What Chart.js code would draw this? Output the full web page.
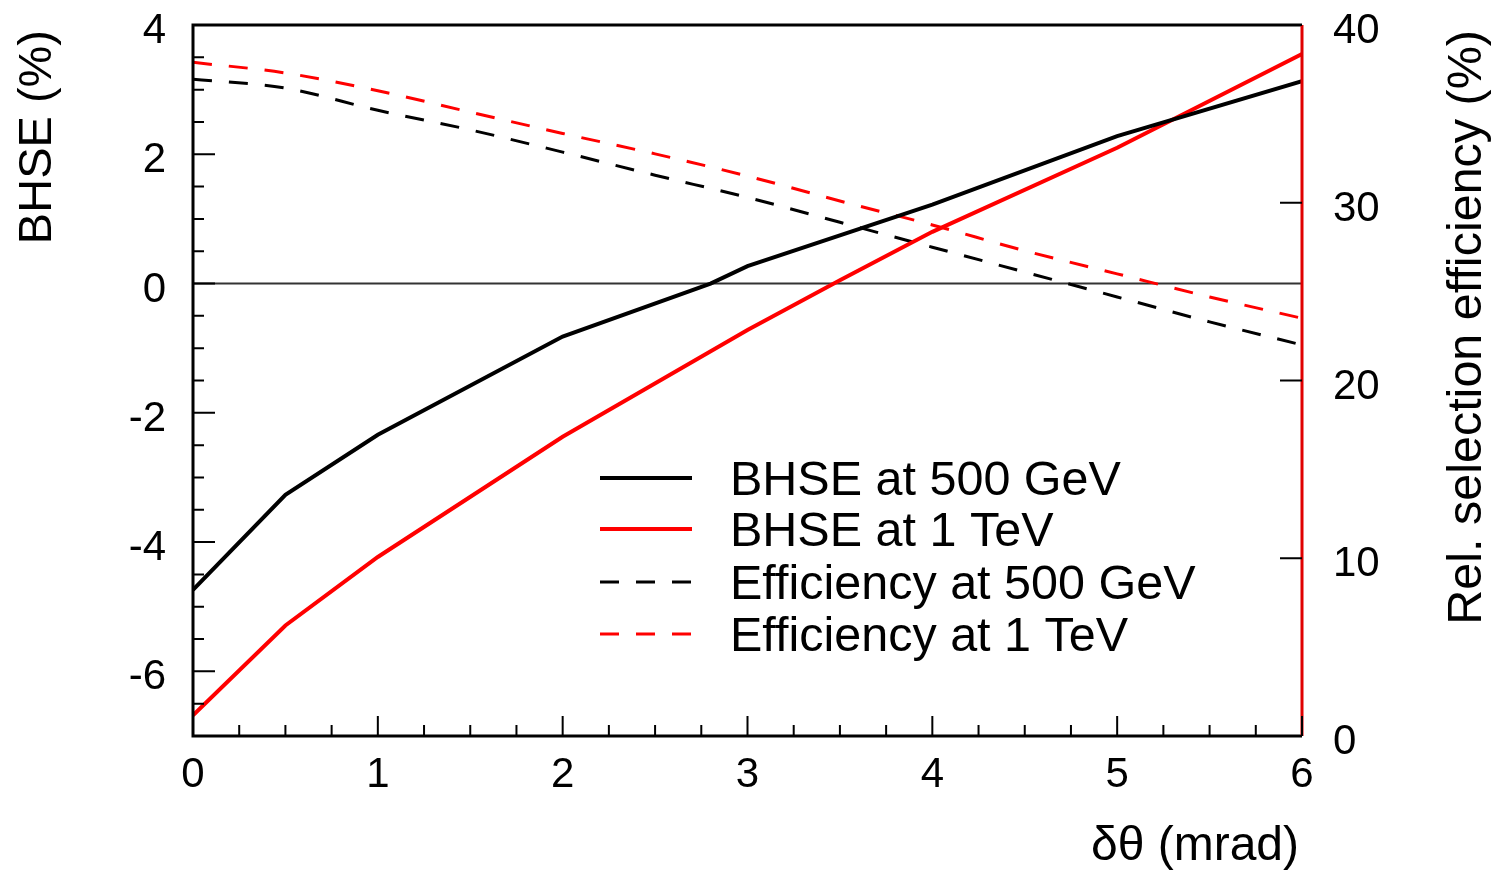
<!DOCTYPE html>
<html>
<head>
<meta charset="utf-8">
<script src="https://cdn.jsdelivr.net/npm/chart.js@4"></script>
<style>
  html, body { margin: 0; padding: 0; background: #fff; }
  #wrap { width: 1492px; height: 872px; position: relative; }
</style>
</head>
<body>
<div id="wrap"><canvas id="bhseChart"></canvas></div>
<script>
// Beam-halo systematic error (left axis) and relative selection efficiency (right axis)
let thetaBhse500 = [0, 0.5, 1, 2, 2.8, 3, 4, 5, 6];
let bhse500 = [-4.74, -3.27, -2.34, -0.82, 0.0, 0.27, 1.22, 2.28, 3.13];

let thetaBhse1TeV = [0, 0.5, 1, 2, 3, 3.5, 4, 5, 6];
let bhse1TeV = [-6.68, -5.29, -4.23, -2.37, -0.72, 0.05, 0.8, 2.1, 3.55];

let thetaEff = [0, 0.5, 1, 1.5, 2, 2.5, 3, 3.5, 4, 4.5, 5, 5.5, 6];
let eff500 = [36.95, 36.45, 35.2, 34.1, 32.85, 31.55, 30.3, 28.9, 27.5, 26.1, 24.7, 23.3, 22.0];
let eff1TeV = [37.9, 37.3, 36.3, 35.1, 33.9, 32.75, 31.5, 30.1, 28.75, 27.3, 26.0, 24.7, 23.5];

let xTicks = [0, 1, 2, 3, 4, 5, 6];
let yTicks = [-6, -4, -2, 0, 2, 4];
let y2Ticks = [0, 10, 20, 30, 40];

let FONT = '"Liberation Sans", Arial, Helvetica, sans-serif';

function toPoints(xs, ys){
  return xs.map((x, i) => ({ x: x, y: ys[i] }));
}

// Draws the frame, inward ticks, tick labels, titles and the legend box
let axisPainter = {
  id: 'axisPainter',
  beforeDatasetsDraw(chart){
    let ctx = chart.ctx, a = chart.chartArea, y = chart.scales.y;
    let y0 = y.getPixelForValue(0);
    ctx.save();
    ctx.strokeStyle = '#333';
    ctx.lineWidth = 2;
    ctx.beginPath();
    ctx.moveTo(a.left, y0);
    ctx.lineTo(a.right, y0);
    ctx.stroke();
    ctx.restore();
  },
  afterDatasetsDraw(chart){
    let ctx = chart.ctx, a = chart.chartArea;
    let x = chart.scales.x, y = chart.scales.y, y2 = chart.scales.y2;
    ctx.save();

    // frame
    ctx.strokeStyle = '#000';
    ctx.lineWidth = 3;
    ctx.beginPath();
    ctx.moveTo(a.right, a.top);
    ctx.lineTo(a.left, a.top);
    ctx.lineTo(a.left, a.bottom);
    ctx.lineTo(a.right, a.bottom);
    ctx.stroke();
    ctx.strokeStyle = '#e00000';
    ctx.beginPath();
    ctx.moveTo(a.right, a.top);
    ctx.lineTo(a.right, a.bottom);
    ctx.stroke();

    // ticks
    ctx.strokeStyle = '#000';
    ctx.lineWidth = 2;
    ctx.beginPath();
    for(let v = 0; v <= 6.001; v += 0.25){
      let px = x.getPixelForValue(v);
      let len = Math.abs(v - Math.round(v)) < 1e-6 ? 20 : 11;
      ctx.moveTo(px, a.bottom);
      ctx.lineTo(px, a.bottom - len);
    }
    for(let v = -7; v <= 4.001; v += 0.5){
      let py = y.getPixelForValue(v);
      let len = yTicks.includes(v) ? 22 : 11;
      ctx.moveTo(a.left, py);
      ctx.lineTo(a.left + len, py);
    }
    y2Ticks.forEach((v) => {
      let py = y2.getPixelForValue(v);
      ctx.moveTo(a.right, py);
      ctx.lineTo(a.right - 22, py);
    });
    ctx.stroke();

    // tick labels
    ctx.fillStyle = '#000';
    ctx.font = '42px ' + FONT;
    ctx.textBaseline = 'alphabetic';
    ctx.textAlign = 'right';
    yTicks.forEach((v) => {
      ctx.fillText(String(v), a.left - 27, y.getPixelForValue(v) + 18);
    });
    ctx.textAlign = 'center';
    xTicks.forEach((v) => {
      ctx.fillText(String(v), x.getPixelForValue(v), a.bottom + 51);
    });
    ctx.textAlign = 'left';
    y2Ticks.forEach((v) => {
      ctx.fillText(String(v), a.right + 31, y2.getPixelForValue(v) + 18);
    });

    // axis titles
    ctx.font = '47px ' + FONT;
    ctx.textAlign = 'right';
    ctx.save();
    ctx.translate(51, 30);
    ctx.rotate(-Math.PI / 2);
    ctx.fillText('BHSE (%)', 0, 0);
    ctx.restore();
    ctx.font = '48.5px ' + FONT;
    ctx.save();
    ctx.translate(1481, 30);
    ctx.rotate(-Math.PI / 2);
    ctx.fillText('Rel. selection efficiency (%)', 0, 0);
    ctx.restore();
    ctx.font = '48px ' + FONT;
    ctx.fillText('\u03b4\u03b8 (mrad)', 1299, 860);

    // legend
    let rows = [478, 529, 582, 634];
    ctx.font = '48.5px ' + FONT;
    ctx.textAlign = 'left';
    chart.data.datasets.forEach((ds, i) => {
      ctx.strokeStyle = ds.borderColor;
      ctx.lineWidth = ds.borderWidth;
      ctx.setLineDash(ds.borderDash || []);
      ctx.beginPath();
      ctx.moveTo(600, rows[i]);
      ctx.lineTo(692, rows[i]);
      ctx.stroke();
      ctx.setLineDash([]);
      ctx.fillText(ds.label, 730, rows[i] + 17);
    });
    ctx.restore();
  }
};

new Chart(document.getElementById('bhseChart').getContext('2d'), {
  type: 'line',
  data: {
    datasets: [
      { label: 'BHSE at 500 GeV', data: toPoints(thetaBhse500, bhse500), yAxisID: 'y',
        borderColor: '#000', borderWidth: 4, pointRadius: 0, tension: 0 },
      { label: 'BHSE at 1 TeV', data: toPoints(thetaBhse1TeV, bhse1TeV), yAxisID: 'y',
        borderColor: '#ff0000', borderWidth: 4, pointRadius: 0, tension: 0 },
      { label: 'Efficiency at 500 GeV', data: toPoints(thetaEff, eff500), yAxisID: 'y2',
        borderColor: '#000', borderWidth: 3, borderDash: [19, 17], pointRadius: 0,
        cubicInterpolationMode: 'monotone' },
      { label: 'Efficiency at 1 TeV', data: toPoints(thetaEff, eff1TeV), yAxisID: 'y2',
        borderColor: '#ff0000', borderWidth: 3, borderDash: [19, 17], pointRadius: 0,
        cubicInterpolationMode: 'monotone' }
    ]
  },
  options: {
    responsive: true,
    maintainAspectRatio: false,
    animation: false,
    layout: { padding: { left: 193, right: 190, top: 25, bottom: 136 } },
    plugins: { legend: { display: false }, tooltip: { enabled: false } },
    scales: {
      x: { type: 'linear', min: 0, max: 6, display: false },
      y: { type: 'linear', min: -7, max: 4, display: false },
      y2: { type: 'linear', position: 'right', min: 0, max: 40, display: false }
    }
  },
  plugins: [axisPainter]
});
</script>
</body>
</html>
